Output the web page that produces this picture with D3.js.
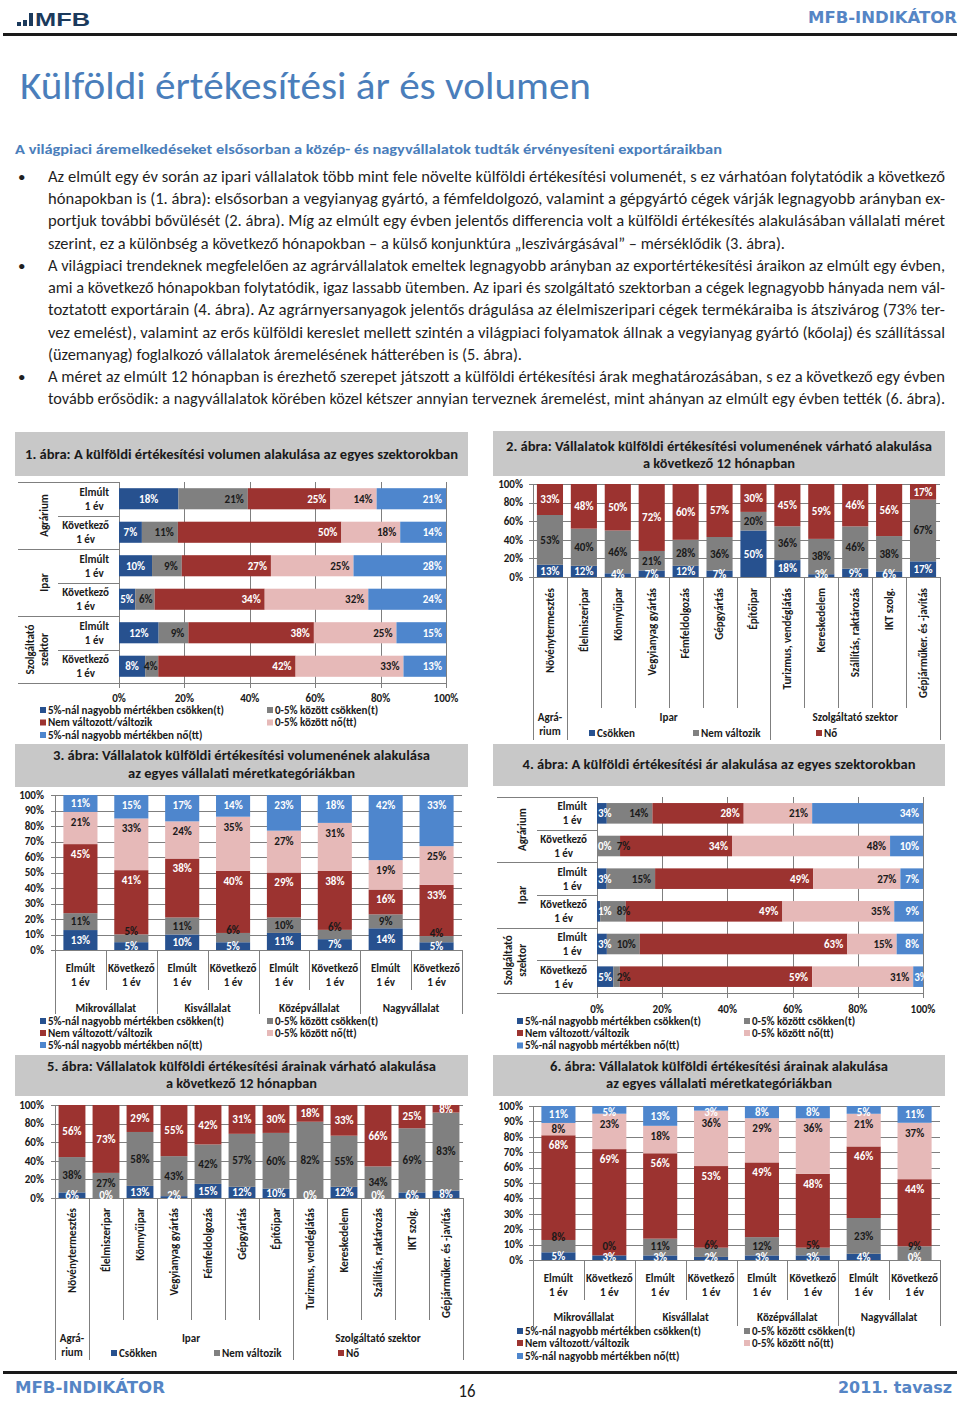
<!DOCTYPE html>
<html><head><meta charset="utf-8">
<script src="https://cdn.jsdelivr.net/npm/d3@7/dist/d3.min.js"></script>
<style>html,body{margin:0;padding:0;background:#fff;}svg{display:block;}</style>
</head><body>
<svg id="page" width="960" height="1401"></svg>
<script>
// ================= DATA =================
const headerRight = "MFB-INDIKÁTOR";
const logoText = "MFB";
const pageTitle = "Külföldi értékesítési ár és volumen";
const subHeading = "A világpiaci áremelkedéseket elsősorban a közép- és nagyvállalatok tudták érvényesíteni exportáraikban";
const bodyLines = [
  "Az elmúlt egy év során az ipari vállalatok több mint fele növelte külföldi értékesítési volumenét, s ez várhatóan folytatódik a következő",
  "hónapokban is (1. ábra): elsősorban a vegyianyag gyártó, a fémfeldolgozó, valamint a gépgyártó cégek várják legnagyobb arányban ex-",
  "portjuk további bővülését (2. ábra). Míg az elmúlt egy évben jelentős differencia volt a külföldi értékesítés alakulásában vállalati méret",
  "szerint, ez a különbség a következő hónapokban – a külső konjunktúra „leszivárgásával” – mérséklődik (3. ábra).",
  "A világpiaci trendeknek megfelelően az agrárvállalatok emeltek legnagyobb arányban az exportértékesítési áraikon az elmúlt egy évben,",
  "ami a következő hónapokban folytatódik, igaz lassabb ütemben. Az ipari és szolgáltató szektorban a cégek legnagyobb hányada nem vál-",
  "toztatott exportárain (4. ábra). Az agrárnyersanyagok jelentős drágulása az élelmiszeripari cégek termékáraiba is átszivárog (73% ter-",
  "vez emelést), valamint az erős külföldi kereslet mellett szintén a világpiaci folyamatok állnak a vegyianyag gyártó (kőolaj) és szállítással",
  "(üzemanyag) foglalkozó vállalatok áremelésének hátterében is (5. ábra).",
  "A méret az elmúlt 12 hónapban is érezhető szerepet játszott a külföldi értékesítési árak meghatározásában, s ez a következő egy évben",
  "tovább erősödik: a nagyvállalatok körében közel kétszer annyian terveznek áremelést, mint ahányan az elmúlt egy évben tették (6. ábra)."
];
const bulletLines = [0, 4, 9];
const footerLeft = "MFB-INDIKÁTOR";
const footerPage = "16";
const footerRight = "2011. tavasz";

const seriesNames5 = ["5%-nál nagyobb mértékben csökken(t)", "0-5% között csökken(t)", "Nem változott/változik", "0-5% között nő(tt)", "5%-nál nagyobb mértékben nő(tt)"];
const seriesNames3 = ["Csökken", "Nem változik", "Nő"];
const periodLabels = ["Elmúlt\n1 év", "Következő\n1 év"];
const sectorLabels = ["Agrárium", "Ipar", "Szolgáltató\nszektor"];
const branchLabels = ["Növénytermesztés", "Élelmiszeripar", "Könnyűipar", "Vegyianyag gyártás", "Fémfeldolgozás", "Gépgyártás", "Építőipar", "Turizmus, vendéglátás", "Kereskedelem", "Szállítás, raktározás", "IKT szolg.", "Gépjárműker. és -javítás"];
const branchGroups = ["Agrá-\nrium", "Ipar", "Szolgáltató szektor"];
const branchGroupSizes = [1, 6, 5];
const sizeGroups = ["Mikrovállalat", "Kisvállalat", "Középvállalat", "Nagyvállalat"];
const pctTicks20 = [0, 0.2, 0.4, 0.6, 0.8, 1];
const pctTicks10 = [0, 0.1, 0.2, 0.3, 0.4, 0.5, 0.6, 0.7, 0.8, 0.9, 1];

const fig1Title = ["1. ábra: A külföldi értékesítési volumen alakulása  az egyes szektorokban"];
const fig2Title = ["2. ábra: Vállalatok  külföldi értékesítési volumenének várható alakulása", "a következő 12 hónapban"];
const fig3Title = ["3. ábra: Vállalatok  külföldi értékesítési volumenének alakulása", "az egyes vállalati  méretkategóriákban"];
const fig4Title = ["4. ábra: A külföldi értékesítési ár alakulása  az egyes szektorokban"];
const fig5Title = ["5. ábra: Vállalatok  külföldi értékesítési árainak várható alakulása", "a következő 12 hónapban"];
const fig6Title = ["6. ábra: Vállalatok  külföldi értékesítési árainak alakulása", "az egyes vállalati  méretkategóriákban"];

// rows: Agrárium Elmúlt, Agrárium Következő, Ipar Elmúlt, Ipar Következő, Szolg. Elmúlt, Szolg. Következő
const fig1Values = [[18,21,25,14,21],[7,11,50,18,14],[10,9,27,25,28],[5,6,34,32,24],[12,9,38,25,15],[8,4,42,33,13]];
const fig4Values = [[3,14,28,21,34],[0,7,34,48,10],[3,15,49,27,7],[1,8,49,35,9],[3,10,63,15,8],[5,2,59,31,3]];
// [Csökken, Nem változik, Nő] per branch
const fig2Values = [[13,53,33],[12,40,48],[4,46,50],[7,21,72],[12,28,60],[7,36,57],[50,20,30],[18,36,45],[3,38,59],[9,46,46],[6,38,56],[17,67,17]];
const fig5Values = [[6,38,56],[0,27,73],[13,58,29],[2,43,55],[15,42,42],[12,57,31],[10,60,30],[0,82,18],[12,55,33],[0,34,66],[6,69,25],[8,83,8]];
// Mikro E, Mikro K, Kis E, Kis K, Közép E, Közép K, Nagy E, Nagy K
const fig3Values = [[13,11,45,21,11],[5,5,41,33,15],[10,11,38,24,17],[5,6,40,35,14],[11,10,29,27,23],[7,6,38,31,18],[14,9,16,19,42],[5,4,33,25,33]];
const fig6Values = [[5,8,68,8,11],[3,0,69,23,5],[3,11,56,18,13],[2,6,53,36,3],[3,12,49,29,8],[3,5,48,36,8],[4,23,46,21,5],[0,9,44,37,11]];

// ================= STYLE =================
const COLORS5 = ["#27518f", "#808080", "#9c3330", "#e6b9b8", "#4e86cd"];
const COLORS3 = ["#27518f", "#808080", "#9c3330"];
const LABELFILL5 = ["#fff", "#1a1a1a", "#fff", "#1a1a1a", "#fff"];
const LABELFILL3 = ["#fff", "#1a1a1a", "#fff"];
const GRID = "#7f7f7f";
const BLUE = "#4a7ebb";
const HEADBLUE = "#5585c5";

// ================= FONTS =================
const cv = document.createElement('canvas').getContext('2d');
function fontAvailable(f){
  const s = "mwlWiÁőű0123 abcxyz";
  for (const fb of ['monospace','serif']) {
    cv.font = `40px ${fb}`; const a = cv.measureText(s).width;
    cv.font = `40px '${f}', ${fb}`; const b = cv.measureText(s).width;
    if (Math.abs(a-b) > 0.5) return true;
  }
  return false;
}
const BASE = ["Carlito","Lato","Open Sans","Liberation Sans","DejaVu Sans"].find(fontAvailable) || "sans-serif";
const FONT = `'${BASE}', sans-serif`;
const HEAD = `'${["DejaVu Sans","Verdana","Liberation Sans"].find(fontAvailable) || BASE}', sans-serif`;
const LOGO = `'${["Liberation Sans","Arial"].find(fontAvailable) || BASE}', sans-serif`;
const VS = BASE === "Carlito" ? 1 : 0.97;
function tw(str, size, weight, fam){ cv.font = `${weight} ${size}px ${fam || FONT}`; return cv.measureText(str).width; }
const K = Math.max(0.7, Math.min(1.1, 176 / tw(seriesNames5[0], 11, 'bold')));
const W = (str, size = 11, weight = 'bold') => tw(str, size, weight) * K;
const fmt = d3.format(".0%");

const svg = d3.select('#page');
svg.append('rect').attr('width', 960).attr('height', 1401).attr('fill', '#fff');

function txt(p, str, x, y, o = {}) {
  const size = o.size || 11, weight = o.weight || 'bold', fam = o.fam || FONT;
  const real = o.raw ? size : size * VS;
  const t = p.append('text').attr('x', x).attr('y', y).attr('dy', '0.35em')
    .attr('font-family', fam).attr('font-size', real).attr('font-weight', weight)
    .attr('fill', o.fill || '#1a1a1a').attr('text-anchor', o.anchor || 'start').text(str);
  const len = o.len != null ? o.len : tw(str, size, weight, fam) * K;
  t.attr('textLength', (+len).toFixed(2)).attr('lengthAdjust', 'spacingAndGlyphs');
  if (o.rot) t.attr('transform', `rotate(${o.rot},${x},${y})`);
  return t;
}
function line(p, x1, y1, x2, y2, col = GRID, w = 1) {
  return p.append('line').attr('x1', x1).attr('y1', y1).attr('x2', x2).attr('y2', y2).attr('stroke', col).attr('stroke-width', w);
}
const px = v => Math.round(v) + 0.5;

// ================= HEADER / TEXT =================
[[17,22,4,4],[23,20,4,6],[29,13,4,13]].forEach(r => svg.append('rect').attr('x', r[0]).attr('y', r[1]).attr('width', r[2]).attr('height', r[3]).attr('fill', '#1b3a5c'));
txt(svg, logoText, 35, 19.5, {size: 19, fam: LOGO, fill: '#1b3a5c', len: 55, raw: true});
txt(svg, headerRight, 957, 17, {size: 16, fam: HEAD, fill: HEADBLUE, len: 149, anchor: 'end', raw: true});
line(svg, 3, 34.5, 957, 34.5, '#1a1a1a', 3);

txt(svg, pageTitle, 20, 85, {size: 39, weight: 'normal', fill: BLUE, len: 571, raw: true});
txt(svg, subHeading, 15, 149, {size: 14.5, fill: BLUE, len: 707});

const bodyLens = [897, 897, 897, 737, 897, 897, 897, 897, 474, 897, 897];
bodyLines.forEach((l, i) => {
  const yy = 176.5 + i * 22.25;
  txt(svg, l, 48, yy, {size: 15.5, weight: 'normal', fill: '#1f1f1f', len: bodyLens[i]});
  if (bulletLines.includes(i)) svg.append('text').attr('x', 18).attr('y', yy).attr('dy', '0.35em')
    .attr('font-family', FONT).attr('font-size', 15).attr('fill', '#1f1f1f').text('•');
});

line(svg, 3, 1372.5, 957, 1372.5, '#1a1a1a', 3);
txt(svg, footerLeft, 15, 1387, {size: 16, fam: HEAD, fill: HEADBLUE, len: 150, raw: true});
txt(svg, footerPage, 467, 1391, {size: 18, weight: 'normal', anchor: 'middle', len: 17, raw: true});
txt(svg, footerRight, 952, 1387, {size: 16, fam: HEAD, fill: HEADBLUE, len: 114, anchor: 'end', raw: true});

// ================= CHART HELPERS =================
function titleBar(box, titles, lay, cx) {
  svg.append('rect').attr('x', box[0]).attr('y', box[1]).attr('width', box[2]).attr('height', box[3]).attr('fill', '#c8c8c8');
  titles.forEach((t, i) => txt(svg, t, cx, lay[i][0], {size: 13, anchor: 'middle', len: lay[i][1]}));
}
function legend5(g, cols, rows) {
  const pos = [[0,0],[1,0],[0,1],[1,1],[0,2]];
  seriesNames5.forEach((s, k) => {
    const x = cols[pos[k][0]], y = rows[pos[k][1]];
    g.append('rect').attr('x', x).attr('y', y - 3).attr('width', 6).attr('height', 6).attr('fill', COLORS5[k]);
    txt(g, s, x + 8, y, {size: 11});
  });
}
function legend3(g, xs, y) {
  seriesNames3.forEach((s, k) => {
    g.append('rect').attr('x', xs[k]).attr('y', y - 3).attr('width', 6).attr('height', 6).attr('fill', COLORS3[k]);
    txt(g, s, xs[k] + 8, y, {size: 11});
  });
}

// ---------- horizontal 100% stacked (fig 1, 4) ----------
function hChart(c) {
  const g = svg.append('g');
  const n = c.values.length, nk = c.values[0].length;
  const x = d3.scaleLinear().domain([0, 1]).range([c.x0, c.x1]);
  const y = d3.scaleBand().domain(d3.range(n)).range([c.y0, c.y1]).paddingInner(0.37).paddingOuter(0.185);
  const step = y.step();
  pctTicks20.forEach(t => line(g, px(x(t)), c.y0, px(x(t)), c.y1 + 5));
  d3.range(n + 1).forEach(i => {
    const yy = px(c.y0 + i * step);
    line(g, i % 2 === 0 ? c.groupX : c.rowX, yy, i === n ? c.x1 : c.x0, yy);
  });
  const stacked = d3.stack().keys(d3.range(nk)).value((d, k) => d[k]).offset(d3.stackOffsetExpand)(c.values);
  stacked.forEach((ser, k) => {
    g.selectAll(null).data(ser).join('rect')
      .attr('x', d => x(d[0])).attr('width', d => Math.max(0, x(d[1]) - x(d[0])))
      .attr('y', (d, i) => y(i)).attr('height', y.bandwidth()).attr('fill', COLORS5[k]);
  });
  c.values.forEach((row, i) => {
    const widths = row.map(v => W(v + '%'));
    const lefts = row.map((v, k) => {
      const a = x(stacked[k][i][0]), b = x(stacked[k][i][1]);
      if (k === 0) return Math.max((a + b) / 2 - widths[k] / 2, c.x0 + 1);
      return b - 4 - widths[k];
    });
    for (let k = 1; k < nk; k++) if (lefts[k] < lefts[k - 1] + widths[k - 1] + 5) lefts[k] = lefts[k - 1] + widths[k - 1] + 5;
    row.forEach((v, k) => txt(g, v + '%', lefts[k], y(i) + y.bandwidth() / 2, {fill: LABELFILL5[k]}));
    const lines = periodLabels[i % 2].split('\n');
    const mw = d3.max(lines, l => W(l));
    const cy = c.y0 + (i + 0.5) * step;
    lines.forEach((l, j) => txt(g, l, c.labelRight - mw / 2, cy + (j - (lines.length - 1) / 2) * 14, {anchor: 'middle'}));
  });
  sectorLabels.forEach((s, si) => {
    const lines = s.split('\n');
    const cy = c.y0 + (si * 2 + 1) * step;
    lines.forEach((l, j) => {
      const xx = c.sectorX - (lines.length - 1 - j) * 14;
      txt(g, l, xx, cy, {anchor: 'middle', rot: -90});
    });
  });
  pctTicks20.forEach(t => txt(g, fmt(t), x(t), c.axisY, {anchor: 'middle'}));
  legend5(g, c.legCols, c.legRows);
}

// ---------- vertical 100% stacked (fig 2, 3, 5, 6) ----------
function vChart(c) {
  const g = svg.append('g');
  const n = c.values.length, nk = c.values[0].length;
  const colors = nk === 5 ? COLORS5 : COLORS3, fills = nk === 5 ? LABELFILL5 : LABELFILL3;
  const x = d3.scaleBand().domain(d3.range(n)).range([c.x0, c.x1]).paddingInner(c.pad).paddingOuter(c.pad / 2);
  const y = d3.scaleLinear().domain([0, 1]).range([c.y1, c.y0]);
  const step = x.step();
  c.ticks.forEach(t => {
    const yy = px(y(t));
    line(g, c.x0 - 4, yy, c.x1, yy);
    txt(g, fmt(t), c.yLab, y(t), {anchor: 'end'});
  });
  const bounds = [0]; c.groupSizes.forEach(s => bounds.push(bounds[bounds.length - 1] + s));
  d3.range(n + 1).forEach(i => {
    const xx = px(c.x0 + i * step);
    line(g, xx, i === 0 ? c.y0 : c.y1, xx, bounds.includes(i) ? c.gBot : c.cBot);
  });
  const stacked = d3.stack().keys(d3.range(nk)).value((d, k) => d[k]).offset(d3.stackOffsetExpand)(c.values);
  stacked.forEach((ser, k) => {
    g.selectAll(null).data(ser).join('rect')
      .attr('x', (d, i) => x(i)).attr('width', x.bandwidth())
      .attr('y', d => y(d[1])).attr('height', d => Math.max(0, y(d[0]) - y(d[1]))).attr('fill', colors[k]);
  });
  const base = y(0);
  c.values.forEach((row, i) => {
    const segs = row.map((v, k) => ({top: y(stacked[k][i][1]), bot: y(stacked[k][i][0])}));
    let ys;
    if (nk === 3) {
      ys = segs.map((s, k) => k === 0 ? Math.min((s.top + s.bot) / 2, base - 3) : (s.top + s.bot) / 2);
      if (ys[1] > ys[0] - 11.5) ys[1] = ys[0] - 11.5;
    } else {
      ys = segs.map((s, k) => {
        const h = s.bot - s.top, cc = (s.top + s.bot) / 2;
        if (k === 0) return Math.min(cc, base - 3);
        if (k === 1) return h >= 13 ? cc : s.top - 3;
        return s.top + Math.min(10, Math.max(h / 2, 6));
      });
      if (ys[1] > ys[0] - 10.5) ys[1] = ys[0] - 10.5;
      for (let k = 3; k >= 2; k--) if (ys[k] < ys[k + 1] + 11) ys[k] = ys[k + 1] + 11;
    }
    row.forEach((v, k) => txt(g, v + '%', x(i) + x.bandwidth() / 2, ys[k], {anchor: 'middle', fill: fills[k]}));
    const cx = x(i) + x.bandwidth() / 2;
    if (c.rotated) {
      txt(g, c.cats[i], cx, c.catY, {anchor: 'end', rot: -90});
    } else {
      const lines = c.cats[i].split('\n');
      lines.forEach((l, j) => txt(g, l, cx, c.catY + j * 14, {anchor: 'middle'}));
    }
  });
  c.groups.forEach((gl, gi) => {
    const cx = c.x0 + (bounds[gi] + bounds[gi + 1]) / 2 * step;
    gl.split('\n').forEach((l, j) => txt(g, l, cx, c.groupY + j * 14, {anchor: 'middle'}));
  });
  if (nk === 5) legend5(g, c.legCols, c.legRows); else legend3(g, c.legXs, c.legY);
}

// ================= CHARTS =================
const sizeCats = sizeGroups.flatMap(() => periodLabels);

titleBar([15, 432, 453, 44], fig1Title, [[454, 433]], 241.5);
hChart({values: fig1Values, x0: 119, x1: 446, y0: 482, y1: 683, labelRight: 109, groupX: 18, rowX: 58, sectorX: 44, axisY: 698.5, legCols: [40, 267], legRows: [710, 722.5, 735]});

titleBar([493, 431, 452, 45], fig2Title, [[446, 426], [463, 152]], 719);
vChart({values: fig2Values, x0: 533, x1: 940, y0: 484, y1: 577, pad: 0.23, ticks: pctTicks20, yLab: 523, rotated: true, cats: branchLabels, catY: 588, cBot: 708, gBot: 740, groupSizes: branchGroupSizes, groups: branchGroups, groupY: 717, legXs: [589, 693, 816], legY: 733});

titleBar([15, 744, 453, 43], fig3Title, [[755, 377], [773, 227]], 241.5);
vChart({values: fig3Values, x0: 55, x1: 462, y0: 795, y1: 950, pad: 0.33, ticks: pctTicks10, yLab: 44, rotated: false, cats: sizeCats, catY: 968, cBot: 990, gBot: 1014, groupSizes: [2, 2, 2, 2], groups: sizeGroups, groupY: 1008, legCols: [40, 267], legRows: [1021, 1033, 1045]});

titleBar([493, 744, 452, 42], fig4Title, [[764, 393]], 719);
hChart({values: fig4Values, x0: 597, x1: 923, y0: 797, y1: 993, labelRight: 587, groupX: 497, rowX: 537, sectorX: 522, axisY: 1009.5, legCols: [517, 744], legRows: [1021, 1033, 1045.5]});

titleBar([15, 1055, 453, 41], fig5Title, [[1066, 389], [1083, 151]], 241.5);
vChart({values: fig5Values, x0: 55, x1: 463, y0: 1105, y1: 1198, pad: 0.21, ticks: pctTicks20, yLab: 44, rotated: true, cats: branchLabels, catY: 1208, cBot: 1320, gBot: 1360, groupSizes: branchGroupSizes, groups: branchGroups, groupY: 1338, legXs: [111, 214, 338], legY: 1353});

titleBar([493, 1055, 452, 41], fig6Title, [[1066, 338], [1083, 226]], 719);
vChart({values: fig6Values, x0: 533, x1: 940, y0: 1106, y1: 1260, pad: 0.33, ticks: pctTicks10, yLab: 523, rotated: false, cats: sizeCats, catY: 1278, cBot: 1300, gBot: 1326, groupSizes: [2, 2, 2, 2], groups: sizeGroups, groupY: 1317, legCols: [517, 744], legRows: [1331, 1343, 1356]});
</script>
</body></html>
